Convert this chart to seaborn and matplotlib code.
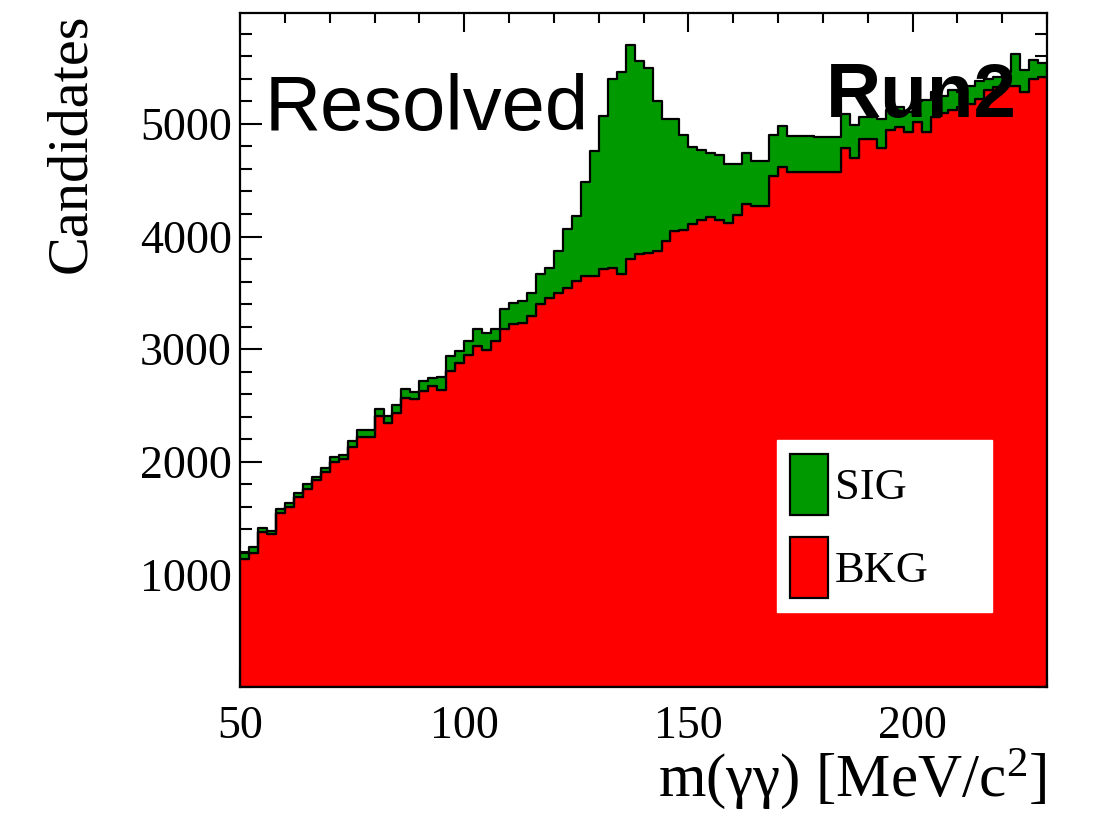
import numpy as np
import pandas as pd
import matplotlib
matplotlib.use("Agg")
import matplotlib.pyplot as plt
from matplotlib.patches import Patch
from matplotlib.ticker import MultipleLocator
import seaborn as sns

# ---------------- data ----------------
bin_lo, bin_hi, bin_w = 50, 230, 2
total = [1190, 1240, 1414, 1388, 1578, 1631, 1726, 1800, 1868, 1943,
         2046, 2061, 2180, 2284, 2284, 2468, 2403, 2507, 2646, 2616,
         2714, 2745, 2750, 2940, 2981, 3070, 3175, 3145, 3175, 3353,
         3412, 3427, 3502, 3665, 3724, 3873, 4066, 4185, 4481, 4762,
         5074, 5400, 5460, 5697, 5560, 5495, 5200, 5045, 5040, 4900,
         4792, 4770, 4740, 4725, 4640, 4640, 4742, 4670, 4670, 4900,
         4985, 4893, 4893, 4890, 4885, 4880, 4880, 5090, 4990, 5060,
         5060, 5040, 5120, 5150, 5110, 5200, 5210, 5280, 5250, 5300,
         5280, 5340, 5380, 5400, 5420, 5460, 5620, 5480, 5570, 5540]
bkg = [1140, 1186, 1379, 1355, 1542, 1601, 1690, 1762, 1836, 1907,
       2002, 2023, 2127, 2224, 2219, 2403, 2344, 2433, 2566, 2557,
       2625, 2676, 2640, 2810, 2878, 2952, 3025, 2996, 3070, 3175,
       3219, 3234, 3294, 3397, 3457, 3502, 3546, 3605, 3650, 3650,
       3709, 3724, 3665, 3799, 3843, 3858, 3870, 3960, 4050, 4060,
       4110, 4145, 4170, 4150, 4120, 4190, 4285, 4270, 4270, 4540,
       4614, 4575, 4575, 4575, 4575, 4577, 4577, 4790, 4700, 4870,
       4870, 4790, 4950, 4970, 4930, 5020, 4930, 5060, 5100, 5120,
       5150, 5180, 5220, 5300, 5330, 5340, 5340, 5280, 5400, 5420]
components = ["SIG", "BKG"]
x_ticks = [50, 100, 150, 200]
y_ticks = [1000, 2000, 3000, 4000, 5000]

edges = [float(e) for e in np.arange(bin_lo, bin_hi + bin_w / 2, bin_w)]
centers = np.array(edges[:-1]) + bin_w / 2
sig = np.clip(np.array(total) - np.array(bkg), 0, None)

df = pd.concat([
    pd.DataFrame({"mass": centers, "counts": sig, "comp": "SIG"}),
    pd.DataFrame({"mass": centers, "counts": bkg, "comp": "BKG"}),
])

# ---------------- style ----------------
sns.set_theme(style="ticks")
plt.rcParams["font.family"] = ["Liberation Serif", "DejaVu Serif"]
plt.rcParams["mathtext.fontset"] = "custom"
plt.rcParams["mathtext.rm"] = "Liberation Serif"
plt.rcParams["mathtext.it"] = "Liberation Serif:italic"
for k in ["text.color", "axes.labelcolor", "xtick.color", "ytick.color",
          "axes.edgecolor"]:
    plt.rcParams[k] = "black"
GREEN = "#009900"
RED = "#ff0000"

fig = plt.figure(figsize=(11.02, 8.13), dpi=100)
ax = fig.add_axes([0.2178, 0.155, 0.7324, 0.829])

sns.histplot(data=df, x="mass", weights="counts", hue="comp",
             hue_order=components, bins=edges, multiple="stack",
             element="step", fill=True, alpha=1,
             palette={"SIG": GREEN, "BKG": RED},
             edgecolor="black", linewidth=1.6, legend=False, ax=ax)

ax.set_xlim(bin_lo, bin_hi)
ax.set_ylim(0, 5985)
ax.set_xticks(x_ticks)
ax.set_yticks(y_ticks)
ax.xaxis.set_minor_locator(MultipleLocator(10))
ax.yaxis.set_minor_locator(MultipleLocator(200))
ax.tick_params(axis="both", which="both", direction="in",
               top=True, right=True, color="black", labelcolor="black", width=1.5)
ax.tick_params(axis="x", which="major", length=14, pad=13, labelsize=33)
ax.tick_params(axis="x", which="minor", length=7)
ax.tick_params(axis="y", which="major", length=16, pad=6, labelsize=33)
ax.tick_params(axis="y", which="minor", length=8.5)
for s in ax.spines.values():
    s.set_linewidth(1.6)
    s.set_color("black")

ax.set_xlabel(r"m(γγ) [MeV/c$^{2}$]", fontsize=44, loc="right", color="black")
ax.xaxis.label.set_verticalalignment("baseline")
ax.xaxis.set_label_coords(1.0, -0.162)
ax.set_ylabel("Candidates", fontsize=42, loc="top", color="black")
ax.yaxis.set_label_coords(-0.177, 1.0)

ax.text(0.031, 0.826, "Resolved", transform=ax.transAxes, color="black",
        fontsize=56, family="Liberation Sans", va="baseline", ha="left")
ax.text(0.726, 0.846, "Run2", transform=ax.transAxes, color="black",
        fontsize=55, family="Liberation Sans", fontweight="bold",
        va="baseline", ha="left")

handles = [Patch(facecolor=GREEN, edgecolor="black", linewidth=1.6, label="SIG"),
           Patch(facecolor=RED, edgecolor="black", linewidth=1.6, label="BKG")]
leg = ax.legend(handles=handles, loc="upper left",
                bbox_to_anchor=(0.665, 0.111, 0.267, 0.255), mode="expand",
                borderaxespad=0, fontsize=32, frameon=True, fancybox=False,
                handlelength=0.86, handleheight=1.74, handletextpad=0.15,
                labelspacing=0.5, borderpad=0.3)
leg.get_frame().set_edgecolor("white")
leg.get_frame().set_facecolor("white")
leg.get_frame().set_alpha(1)
for t in leg.get_texts():
    t.set_color("black")

fig.savefig("out.png", dpi=100)
